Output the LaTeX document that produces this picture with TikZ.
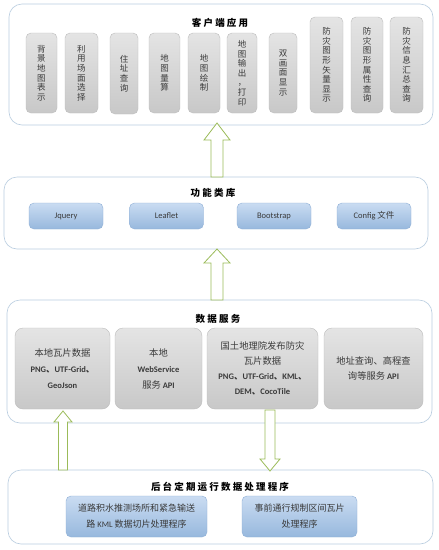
\documentclass[tikz,border=0pt]{standalone}
\usepackage{fontspec}
\setmainfont{Carlito}
\newfontfamily\cjk{Noto Sans CJK SC}
\definecolor{outerc}{HTML}{B9CDE0}
\definecolor{greyt}{HTML}{E4E4E4}
\definecolor{greyb}{HTML}{C8C8C8}
\definecolor{greyd}{HTML}{BDBDBD}
\definecolor{bluet}{HTML}{CADCF2}
\definecolor{blueb}{HTML}{97B8DD}
\definecolor{blued}{HTML}{8FAFD6}
\definecolor{arrowc}{HTML}{9BBB59}
\definecolor{txt}{HTML}{3A3A3A}
\begin{document}
\begin{tikzpicture}[x=1pt,y=-1pt,
  outerbox/.style={draw=outerc, line width=0.6pt, fill=white, rounded corners=13pt, inner sep=0pt},
  vbox/.style={draw=greyd, line width=0.4pt, top color=greyt, bottom color=greyb, rounded corners=5pt,
     inner sep=0pt, align=center, text=txt, font=\cjk\fontsize{8.5}{9.6}\selectfont},
  gbox/.style={draw=greyd, line width=0.4pt, top color=greyt, bottom color=greyb, rounded corners=8pt,
     inner sep=0pt, align=center, text=txt, font=\fontsize{8.5}{16}\selectfont},
  bbox/.style={draw=blued, line width=0.4pt, top color=bluet, bottom color=blueb, rounded corners=5pt,
     inner sep=0pt, align=center, text=txt, font=\fontsize{8.5}{16}\selectfont},
  cj/.style={},
  title/.style={font=\cjk\bfseries\fontsize{9.5}{11}\selectfont, text=black},
  harrow/.style={draw=arrowc, line width=0.8pt, fill=white, line join=miter}
]
\useasboundingbox (0,0) rectangle (439,550);
\fill[white] (0,0) rectangle (439,550);

% ---- layer 1 ----
\node[outerbox, minimum width=424pt, minimum height=121pt] (L1) at (221,64.5) {};
\node[title] (t1) at (220,23) {客 户 端 应 用};
\node[vbox, minimum width=31pt, minimum height=80pt] (v1) at (41.5,73) {背\\景\\地\\图\\表\\示};
\node[vbox, minimum width=33pt, minimum height=80pt] (v2) at (81.5,73) {利\\用\\场\\面\\选\\择};
\node[vbox, minimum width=28pt, minimum height=81pt] (v3) at (124,73.5) {住\\址\\查\\询};
\node[vbox, minimum width=31pt, minimum height=80pt] (v4) at (164.5,73) {地\\图\\量\\算};
\node[vbox, minimum width=32pt, minimum height=80pt] (v5) at (204,73) {地\\图\\绘\\制};
\node[vbox, minimum width=30pt, minimum height=80pt] (v6) at (242,73) {地\\图\\输\\出\\，\\打\\印};
\node[vbox, minimum width=28pt, minimum height=80pt] (v7) at (283,73) {双\\画\\面\\显\\示};
\node[vbox, minimum width=33pt, minimum height=96pt] (v8) at (326.5,65) {防\\灾\\图\\形\\矢\\量\\显\\示};
\node[vbox, minimum width=32pt, minimum height=96pt] (v9) at (367,65) {防\\灾\\图\\形\\属\\性\\查\\询};
\node[vbox, minimum width=33pt, minimum height=96pt] (v10) at (406.5,65) {防\\灾\\信\\息\\汇\\总\\查\\询};

% ---- layer 2 ----
\node[outerbox, minimum width=424pt, minimum height=72pt] (L2) at (216,213) {};
\node[title] (t2) at (213,193) {功 能 类 库};
\node[bbox, minimum width=74pt, minimum height=26pt] (j) at (66,216) {Jquery};
\node[bbox, minimum width=74pt, minimum height=26pt] (lf) at (166.5,216) {Leaflet};
\node[bbox, minimum width=74pt, minimum height=26pt] (bs) at (274,216) {Bootstrap};
\node[bbox, minimum width=74pt, minimum height=26pt] (cf) at (374,216) {Config {\cjk 文件}};

% ---- layer 3 ----
\node[outerbox, minimum width=425pt, minimum height=123pt] (L3) at (219.5,361.5) {};
\node[title] (t3) at (218,319) {数 据 服 务};
\node[gbox, minimum width=95pt, minimum height=81pt] (g1) at (62.5,368.5)
  {{\cjk\fontsize{9.3}{16}\selectfont 本地瓦片数据}\\\bfseries PNG{\cjk 、}UTF-Grid{\cjk 、}\\\bfseries GeoJson};
\node[gbox, minimum width=87pt, minimum height=81pt] (g2) at (158.5,368.5)
  {{\cjk\fontsize{9.3}{16}\selectfont 本地}\\\bfseries WebService\\{\cjk\fontsize{9.3}{16}\selectfont 服务} \bfseries API};
\node[gbox, minimum width=111pt, minimum height=81pt] (g3) at (262.5,368.5)
  {{\cjk\fontsize{9.3}{16}\selectfont 国土地理院发布防灾}\\[-1pt]{\cjk\fontsize{9.3}{16}\selectfont 瓦片数据}\\[-1pt]\bfseries PNG{\cjk 、}UTF-Grid{\cjk 、}KML{\cjk 、}\\[-1pt]\bfseries DEM{\cjk 、}CocoTile};
\node[gbox, minimum width=99pt, minimum height=81pt] (g4) at (373.5,368.5)
  {{\cjk\fontsize{9.3}{16}\selectfont 地址查询、高程查}\\[-1pt]{\cjk\fontsize{9.3}{16}\selectfont 询等服务} \bfseries API};

% ---- layer 4 ----
\node[outerbox, minimum width=425pt, minimum height=74pt] (L4) at (220.5,507) {};
\node[title] (t4) at (220,487) {后 台 定 期 运 行 数 据 处 理 程 序};
\node[bbox, minimum width=141pt, minimum height=41pt] (p1) at (136.5,516.5)
  {{\cjk\fontsize{9}{16}\selectfont 道路积水推测场所和紧急输送}\\{\cjk\fontsize{9}{16}\selectfont 路} KML {\cjk\fontsize{9}{16}\selectfont 数据切片处理程序}};
\node[bbox, minimum width=115pt, minimum height=41pt] (p2) at (299.5,516.5)
  {{\cjk\fontsize{9}{16}\selectfont 事前通行规制区间瓦片}\\{\cjk\fontsize{9}{16}\selectfont 处理程序}};

% ---- hollow arrows ----
\draw[harrow] (217,123) -- (230,140) -- (223,140) -- (223,177) -- (211,177) -- (211,140) -- (204,140) -- cycle;
\draw[harrow] (217,249) -- (230,263) -- (223,263) -- (223,300) -- (211,300) -- (211,263) -- (204,263) -- cycle;
\draw[harrow] (63,411) -- (72,422) -- (67.5,422) -- (67.5,470) -- (58.5,470) -- (58.5,422) -- (54,422) -- cycle;
\draw[harrow] (270,471) -- (280,459) -- (275,459) -- (275,410) -- (265,410) -- (265,459) -- (260,459) -- cycle;
\end{tikzpicture}
\end{document}
